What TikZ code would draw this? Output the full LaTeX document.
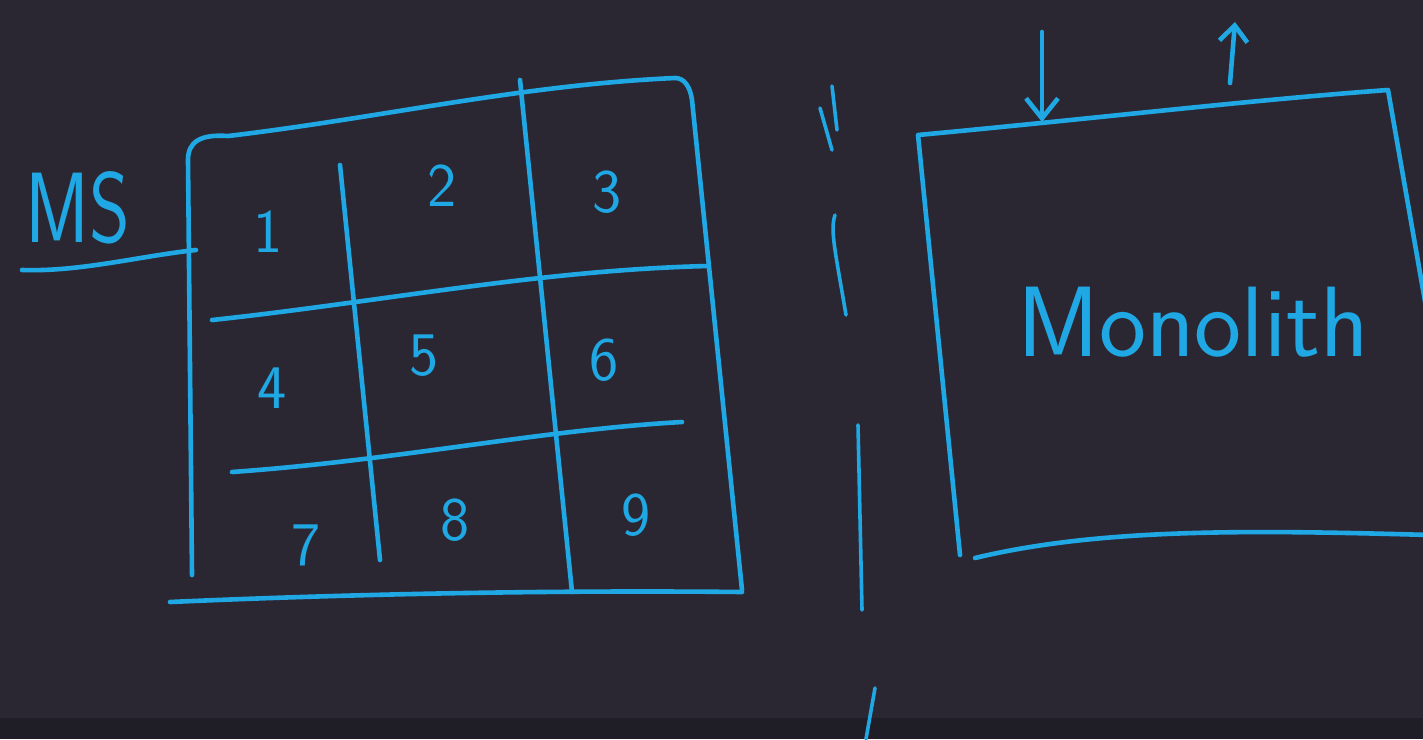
\documentclass[tikz,border=0pt]{standalone}
\usepackage{fontspec}
\usetikzlibrary{arrows.meta}
\definecolor{bg}{HTML}{2A2733}
\definecolor{bgdark}{HTML}{1F1D25}
\definecolor{pen}{HTML}{1FA8E4}
\tikzset{
  ink/.style={draw=pen, line width=4.6pt, line cap=round, line join=round},
  thin/.style={draw=pen, line width=3.6pt, line cap=round},
  digit/.style={text=pen, font=\sffamily\fontsize{62}{70}\selectfont, inner sep=0pt},
  bigword/.style={text=pen, font=\sffamily\fontsize{100}{110}\selectfont, inner sep=0pt}
}
\begin{document}
\begin{tikzpicture}[x=1pt,y=-1pt]
\fill[bg] (0,0) rectangle (1423,739);
\fill[bgdark] (0,718) rectangle (1423,739);
\useasboundingbox (0,0) rectangle (1423,739);

% grid outline
\draw[ink] (192,575) -- (188,160) .. controls (188,142) and (200,134) .. (228,136)
  .. controls (380,118) and (520,85) .. (675,78) .. controls (684,78) and (690,86) .. (692,100)
  -- (742,590);
\draw[ink] (170,602) .. controls (350,594) and (550,590) .. (742,592);
% MS underline
\draw[ink] (22,270) .. controls (80,272) and (140,256) .. (196,250);
% inner grid lines
\draw[ink] (340,165) -- (380,560);
\draw[ink] (520,80) -- (572,592);
\draw[ink] (212,320) .. controls (380,302) and (540,270) .. (708,266);
\draw[ink] (232,472) .. controls (400,460) and (540,430) .. (682,422);

% numbers
\node[digit] (n1) at (268,232) {1};
\node[digit] (n2) at (442,186) {2};
\node[digit] (n3) at (607,192) {3};
\node[digit] (n4) at (272,388) {4};
\node[digit] (n5) at (424,356) {5};
\node[digit] (n6) at (604,360) {6};
\node[digit] (n7) at (306,545) {7};
\node[digit] (n8) at (455,520) {8};
\node[digit] (n9) at (636,515) {9};

\node[bigword, xscale=0.78] (ms) at (78,208) {MS};

% separator
\draw[thin] (832,86) -- (837,130);
\draw[thin] (820,108) -- (832,150);
\draw[thin] (835,215) .. controls (830,230) and (835,250) .. (846,315);
\draw[thin] (858,425) -- (862,610);
\draw[thin] (875,688) -- (866,739);

% monolith box
\draw[ink] (960,555) -- (918,135) .. controls (1100,118) and (1250,100) .. (1388,90)
  -- (1430,330);
\draw[ink] (975,558) .. controls (1100,528) and (1250,530) .. (1430,535);
\node[bigword] (mono) at (1193,322) {Monolith};

% arrows
\coordinate (a1s) at (1042,32);
\coordinate (a1e) at (1042,122);
\coordinate (a2s) at (1230,83);
\coordinate (a2e) at (1235,22);
\draw[ink, -{Straight Barb[length=20pt,width=32pt,line width=4.6pt]}] (a1s) -- (a1e);
\draw[ink, -{Straight Barb[length=16pt,width=28pt,line width=4.6pt]}] (a2s) -- (a2e);
\end{tikzpicture}
\end{document}
